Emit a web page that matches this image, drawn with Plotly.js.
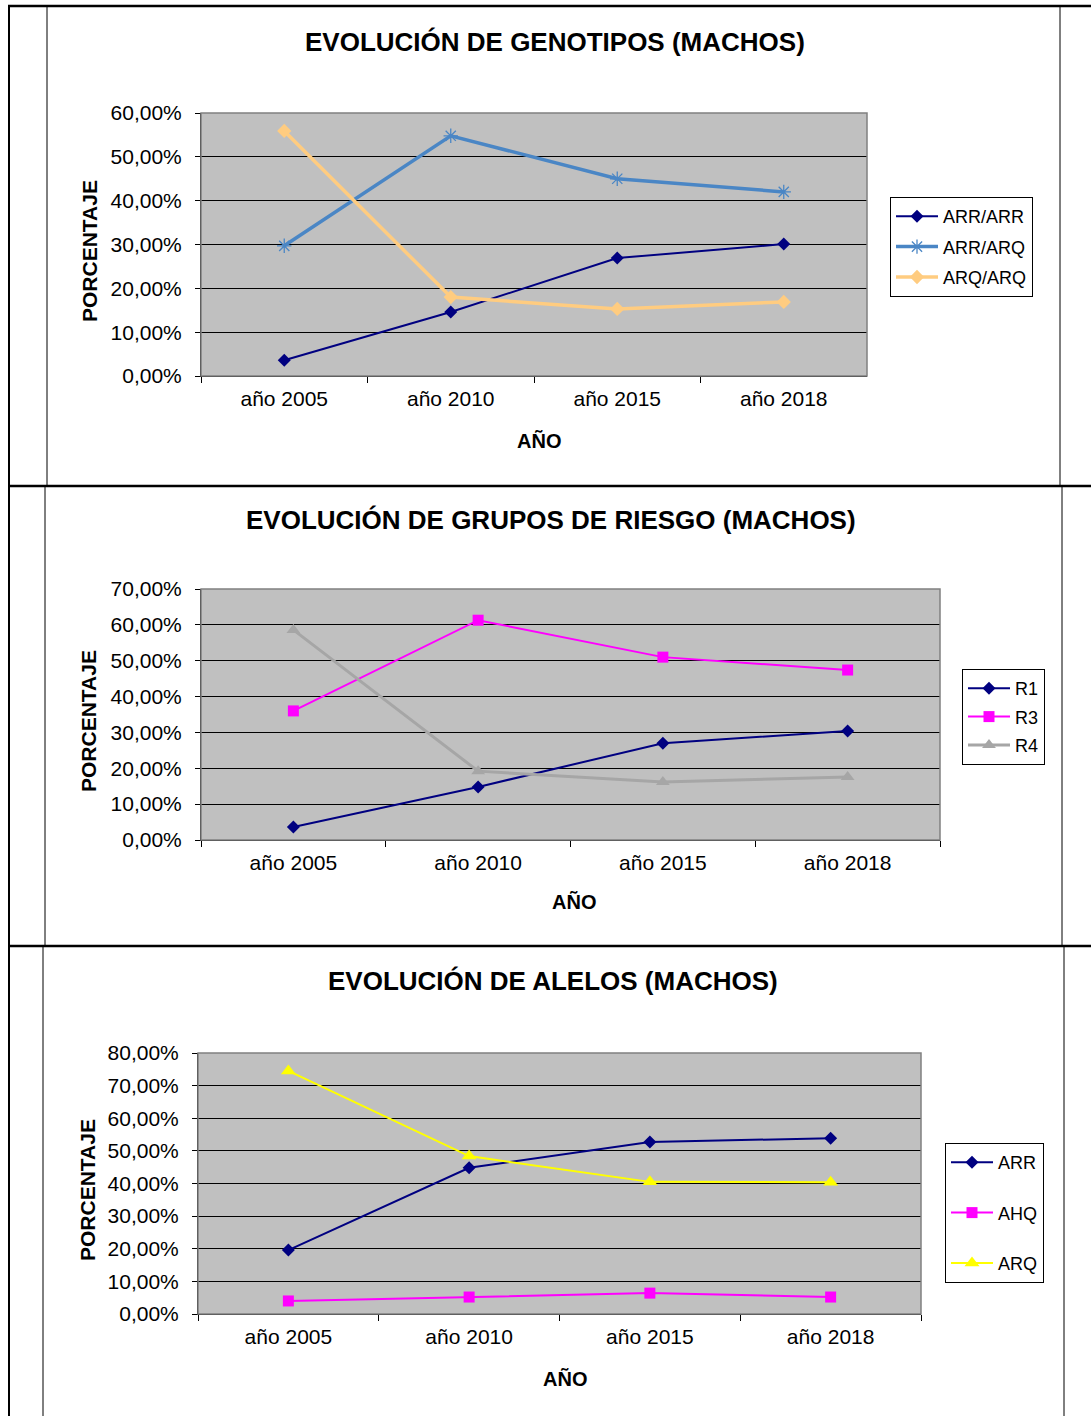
<!DOCTYPE html>
<html>
<head>
<meta charset="utf-8">
<script src="https://cdn.plot.ly/plotly-3.0.1.min.js"></script>
<style>
html,body{margin:0;padding:0;background:#fff;}
#chart{width:1091px;height:1416px;}
</style>
</head>
<body>
<div id="chart"></div>
<script>
// ---- data ----
const years = ["año 2005", "año 2010", "año 2015", "año 2018"];

const chart1Title = "EVOLUCIÓN DE GENOTIPOS (MACHOS)";
const genotypeNames = ["ARR/ARR", "ARR/ARQ", "ARQ/ARQ"];
const arrArr = [0.036, 0.146, 0.269, 0.301];
const arrArq = [0.297, 0.548, 0.450, 0.420];
const arqArq = [0.559, 0.180, 0.153, 0.169];

const chart2Title = "EVOLUCIÓN DE GRUPOS DE RIESGO (MACHOS)";
const riskNames = ["R1", "R3", "R4"];
const r1 = [0.036, 0.148, 0.270, 0.304];
const r3 = [0.360, 0.613, 0.510, 0.474];
const r4 = [0.586, 0.192, 0.162, 0.176];

const chart3Title = "EVOLUCIÓN DE ALELOS (MACHOS)";
const alleleNames = ["ARR", "AHQ", "ARQ"];
const arr = [0.196, 0.448, 0.527, 0.539];
const ahq = [0.040, 0.052, 0.064, 0.052];
const arq = [0.745, 0.484, 0.405, 0.404];

const yTitle = "PORCENTAJE";
const xTitle = "AÑO";

// ---- layout helpers ----
const W = 1091, H = 1416;
const px = x => x / W;
const py = y => 1 - y / H;
const FONT = "Liberation Sans, Arial, sans-serif";

function tr(y, name, color, width, symbol, msize, xa, ya, leg, extraMarker) {
  return {
    x: years, y: y, name: name, type: "scatter", mode: "lines+markers",
    xaxis: xa, yaxis: ya, legend: leg, legendgroup: name,
    line: {color: color, width: width},
    marker: Object.assign({symbol: symbol, size: msize, color: color}, extraMarker || {})
  };
}

const data = [
  tr(arrArr, genotypeNames[0], "#000080", 2, "diamond", 10, "x", "y", "legend"),
  tr(arrArq, genotypeNames[1], "#4A86C5", 3.5, "asterisk-open", 12, "x", "y", "legend", {line: {color: "#4A86C5", width: 1.3}}),
  tr(arqArq, genotypeNames[2], "#FFCC80", 3.5, "diamond", 11, "x", "y", "legend"),

  tr(r1, riskNames[0], "#000080", 2, "diamond", 10, "x2", "y2", "legend2"),
  tr(r3, riskNames[1], "#FF00FF", 2, "square", 11, "x2", "y2", "legend2"),
  tr(r4, riskNames[2], "#A6A6A6", 3, "triangle-up", 12, "x2", "y2", "legend2"),

  tr(arr, alleleNames[0], "#000080", 2, "diamond", 10, "x3", "y3", "legend3"),
  tr(ahq, alleleNames[1], "#FF00FF", 2, "square", 11, "x3", "y3", "legend3"),
  tr(arq, alleleNames[2], "#FFFF00", 2, "triangle-up", 13, "x3", "y3", "legend3")
];

function xax(l, r, anchor) {
  return {
    domain: [px(l), px(r)], anchor: anchor, type: "category",
    range: [-0.5, 3.5], showgrid: false, zeroline: false,
    showline: true, linecolor: "#000", linewidth: 1,
    ticks: "outside", tickson: "boundaries", ticklen: 6, tickcolor: "#000",
    tickfont: {family: FONT, size: 21, color: "#000"}, ticklabelstandoff: 4,
    fixedrange: true
  };
}
function yax(t, b, max, anchor) {
  return {
    domain: [py(b), py(t)], anchor: anchor, range: [0, max], dtick: 0.1,
    tickformat: ".2%", showgrid: true, gridcolor: "#000", gridwidth: 1,
    zeroline: false, showline: true, linecolor: "#000", linewidth: 1,
    ticks: "outside", ticklen: 5, tickcolor: "#000",
    tickfont: {family: FONT, size: 21, color: "#000"}, ticklabelstandoff: 9,
    fixedrange: true
  };
}

function leg(x, y, gap) {
  return {
    x: px(x), y: py(y), xanchor: "left", yanchor: "top",
    bgcolor: "#fff", bordercolor: "#000", borderwidth: 1,
    font: {family: FONT, size: 18, color: "#000"},
    itemwidth: 42, tracegroupgap: gap, traceorder: "grouped"
  };
}

function ann(text, x, y, size, angle) {
  return {text: "<b>" + text + "</b>", x: px(x), y: py(y), xref: "paper", yref: "paper",
    xanchor: "center", yanchor: "middle", showarrow: false, textangle: angle || 0,
    font: {family: FONT, size: size, color: "#000"}};
}

function line(x0, y0, x1, y1, w) {
  return {type: "line", xref: "paper", yref: "paper", x0: px(x0), y0: py(y0), x1: px(x1), y1: py(y1),
    line: {color: "#000", width: w}};
}
function border(xa, ya) {
  return {type: "rect", xref: xa + " domain", yref: ya + " domain", x0: 0, x1: 1, y0: 0, y1: 1,
    line: {color: "#808080", width: 1.5}, layer: "above"};
}

const layout = {
  width: W, height: H, margin: {l: 0, r: 0, t: 0, b: 0},
  paper_bgcolor: "#fff", plot_bgcolor: "#C0C0C0",
  separators: ",.", showlegend: true,
  font: {family: FONT, color: "#000"},
  xaxis: xax(201, 867, "y"), yaxis: yax(113, 376, 0.6, "x"),
  xaxis2: xax(201, 940, "y2"), yaxis2: yax(589, 840, 0.7, "x2"),
  xaxis3: xax(198, 921, "y3"), yaxis3: yax(1053, 1314, 0.8, "x3"),
  legend: leg(890, 197, 4),
  legend2: leg(962, 669, 2),
  legend3: leg(945, 1143, 24),
  annotations: [
    ann(chart1Title, 555, 42, 26), ann(yTitle, 90, 251, 21, -90), ann(xTitle, 539, 441, 20),
    ann(chart2Title, 551, 520, 26), ann(yTitle, 88, 721, 21, -90), ann(xTitle, 574, 902, 20),
    ann(chart3Title, 553, 981, 26), ann(yTitle, 87, 1190, 21, -90), ann(xTitle, 565, 1379, 20)
  ],
  shapes: [
    line(8, 6, 1091, 6, 2.5),
    line(8, 486, 1091, 486, 2.5),
    line(8, 946, 1091, 946, 2.5),
    line(9, 6, 9, 1416, 2),
    line(47, 6, 47, 486, 1), line(45, 486, 45, 946, 1), line(43, 946, 43, 1416, 1),
    line(1060, 6, 1060, 486, 1), line(1062, 486, 1062, 946, 1), line(1064, 946, 1064, 1416, 1),
    border("x", "y"), border("x2", "y2"), border("x3", "y3")
  ]
};

Plotly.newPlot("chart", data, layout, {displayModeBar: false, staticPlot: true});
</script>
</body>
</html>
